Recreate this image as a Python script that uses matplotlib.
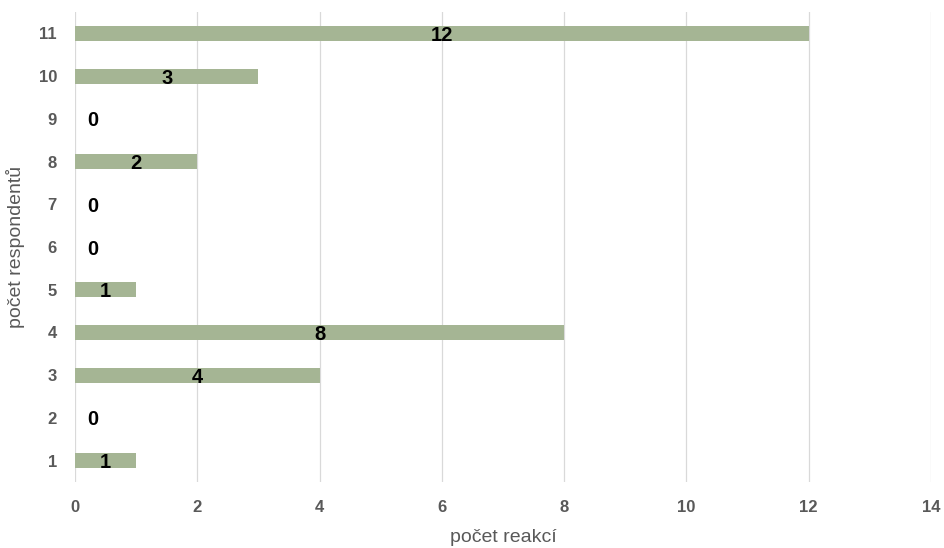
import matplotlib
matplotlib.use("Agg")
import matplotlib.pyplot as plt

plt.rcParams["font.family"] = ["Liberation Sans", "DejaVu Sans"]

categories = ["1", "2", "3", "4", "5", "6", "7", "8", "9", "10", "11"]
values = [1, 0, 4, 8, 1, 0, 0, 2, 0, 3, 12]
x_ticks = [0, 2, 4, 6, 8, 10, 12, 14]

bar_color = "#A5B594"
tick_color = "#595959"

fig = plt.figure(figsize=(9.44, 5.48), dpi=100)
ax = fig.add_axes([75 / 944, 66 / 548, (931 - 75) / 944, (536 - 66) / 548])

ypos = list(range(len(categories)))
ax.barh(ypos, values, height=0.35, color=bar_color, zorder=2)

for y, v in zip(ypos, values):
    if v == 0:
        ax.annotate(str(v), (0, y), xytext=(13, -1.5), textcoords="offset points",
                    ha="center", va="center", fontsize=14.5, fontweight="bold",
                    color="black", zorder=3)
    else:
        ax.annotate(str(v), (v / 2, y), xytext=(0, -1.5), textcoords="offset points",
                    ha="center", va="center", fontsize=14.5, fontweight="bold",
                    color="black", zorder=3)

ax.set_xlim(0, 14)
ax.set_ylim(-0.5, len(categories) - 0.5)
ax.set_xticks(x_ticks)
ax.set_yticks(ypos)
ax.set_yticklabels(categories)
ax.xaxis.grid(True, color="#D9D9D9", linewidth=0.9, zorder=0)
ax.set_axisbelow(True)
for s in ax.spines.values():
    s.set_visible(False)
ax.tick_params(axis="both", length=0, labelsize=12, labelcolor=tick_color)
ax.tick_params(axis="x", pad=13)
ax.tick_params(axis="y", pad=13)
for lbl in ax.get_xticklabels() + ax.get_yticklabels():
    lbl.set_fontweight("bold")

ax.set_xlabel("počet reakcí", fontsize=14, color=tick_color, labelpad=10)
ax.set_ylabel("počet respondentů", fontsize=14, color=tick_color, labelpad=10)

fig.savefig("out.png", dpi=100)
